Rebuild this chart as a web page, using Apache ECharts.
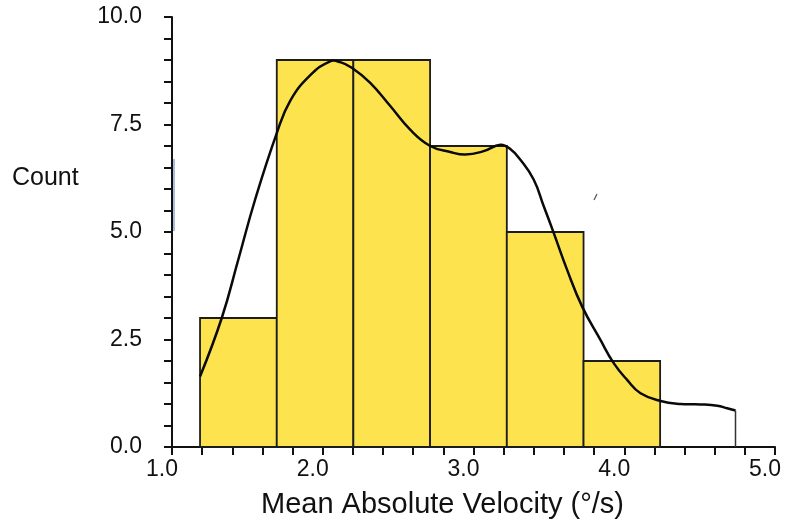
<!DOCTYPE html>
<html>
<head>
<meta charset="utf-8">
<script src="https://cdn.jsdelivr.net/npm/echarts@6/dist/echarts.min.js"></script>
<style>
  html, body { margin: 0; padding: 0; background: #ffffff; }
  #chart { width: 785px; height: 529px; }
</style>
</head>
<body>
<div id="chart"></div>
<script>
// Histogram bin edges (°/s) and counts per bin
const binEdges = [1.186, 1.695, 2.203, 2.712, 3.221, 3.730, 4.238];
const binCounts = [3, 9, 9, 7, 5, 2];

// Smoothed density curve, scaled to counts
const curveX = [1.186, 1.330, 1.440, 1.551, 1.695, 1.784, 1.916, 2.049, 2.116, 2.193,
                2.315, 2.448, 2.580, 2.713, 2.846, 2.946, 3.067, 3.178, 3.244, 3.311,
                3.399, 3.466, 3.532, 3.621, 3.720, 3.842, 3.930, 4.019, 4.108, 4.241,
                4.373, 4.506, 4.617, 4.683, 4.738];
const curveY = [1.64, 3.00, 4.36, 5.75, 7.30, 8.05, 8.64, 8.97, 8.95, 8.82,
                8.47, 7.93, 7.38, 7.00, 6.86, 6.80, 6.88, 7.03, 6.93, 6.68,
                6.22, 5.60, 4.98, 4.12, 3.27, 2.49, 1.95, 1.56, 1.25, 1.07,
                1.00, 0.99, 0.96, 0.90, 0.85];

// Axis ranges and tick steps
const xRange = [1, 5];
const xStep = 1;
const yRange = [0, 10];
const yStep = 2.5;

const bars = binCounts.map((c, i) => [binEdges[i], binEdges[i + 1], c]);
const curve = curveX.map((x, i) => [x, curveY[i]]);
const lastX = curveX[curveX.length - 1];
const closing = [[lastX, curveY[curveY.length - 1]], [lastX, 0]];

const FONT = '"Liberation Sans", Arial, Helvetica, sans-serif';

const chart = echarts.init(document.getElementById('chart'), null, { renderer: 'canvas' });

chart.setOption({
  animation: false,
  backgroundColor: '#ffffff',
  grid: { left: 172, right: 10, top: 17, bottom: 82, containLabel: false },
  xAxis: {
    type: 'value',
    min: xRange[0],
    max: xRange[1],
    interval: xStep,
    name: 'Mean Absolute Velocity (°/s)',
    nameLocation: 'middle',
    nameGap: 43,
    nameTextStyle: { fontFamily: FONT, fontSize: 29, color: '#111', padding: [0, 62, 0, 0] },
    axisLine: { show: true, onZero: false, lineStyle: { color: '#111', width: 2 } },
    axisTick: { show: true, inside: false, length: 8, lineStyle: { color: '#111', width: 2 } },
    minorTick: { show: true, splitNumber: 5, length: 8, lineStyle: { color: '#111', width: 2 } },
    axisLabel: {
      fontFamily: FONT, fontSize: 23, color: '#111', margin: 11,
      padding: [0, 20, 0, 0],
      formatter: v => v.toFixed(1)
    },
    splitLine: { show: false }
  },
  yAxis: {
    type: 'value',
    min: yRange[0],
    max: yRange[1],
    interval: yStep,
    axisLine: { show: true, onZero: false, lineStyle: { color: '#111', width: 2 } },
    axisTick: { show: true, inside: false, length: 8, lineStyle: { color: '#111', width: 2 } },
    minorTick: { show: true, splitNumber: 5, length: 8, lineStyle: { color: '#111', width: 2 } },
    axisLabel: {
      fontFamily: FONT, fontSize: 23, color: '#111', margin: 30,
      formatter: v => v.toFixed(1)
    },
    splitLine: { show: false }
  },
  graphic: [
    {
      type: 'text', left: 12, top: 166, z: 10,
      style: { text: 'Count', font: '25px ' + FONT, fill: '#111' }
    },
    {
      // faint blue streak along the axis
      type: 'rect', left: 171, top: 159, z: 0,
      shape: { width: 4, height: 72 },
      style: { fill: '#aebbdb' }
    },
    {
      // small stray pen mark
      type: 'line', z: 1,
      shape: { x1: 594, y1: 200, x2: 597, y2: 194 },
      style: { stroke: '#555', lineWidth: 1.2 }
    }
  ],
  series: [
    {
      type: 'custom',
      data: bars,
      encode: { x: [0, 1], y: 2 },
      z: 2,
      renderItem: function (params, api) {
        const topLeft = api.coord([api.value(0), api.value(2)]);
        const bottomRight = api.coord([api.value(1), 0]);
        return {
          type: 'rect',
          shape: {
            x: topLeft[0],
            y: topLeft[1],
            width: bottomRight[0] - topLeft[0],
            height: bottomRight[1] - topLeft[1]
          },
          style: { fill: '#fde44f', stroke: '#1c1c1c', lineWidth: 1.8 }
        };
      }
    },
    {
      // density curve: one smooth polyline through every curve point
      type: 'custom',
      data: curve,
      encode: { x: 0, y: 1 },
      z: 3,
      renderItem: function (params, api) {
        if (params.dataIndex !== 0) return null;
        const pts = curve.map(p => api.coord(p));
        return {
          type: 'polyline',
          shape: { points: pts, smooth: 0.45 },
          style: { fill: null, stroke: '#0a0a0a', lineWidth: 2.5 }
        };
      }
    },
    {
      type: 'line',
      data: closing,
      showSymbol: false,
      z: 3,
      lineStyle: { color: '#333', width: 1.5 }
    }
  ]
});
</script>
</body>
</html>
